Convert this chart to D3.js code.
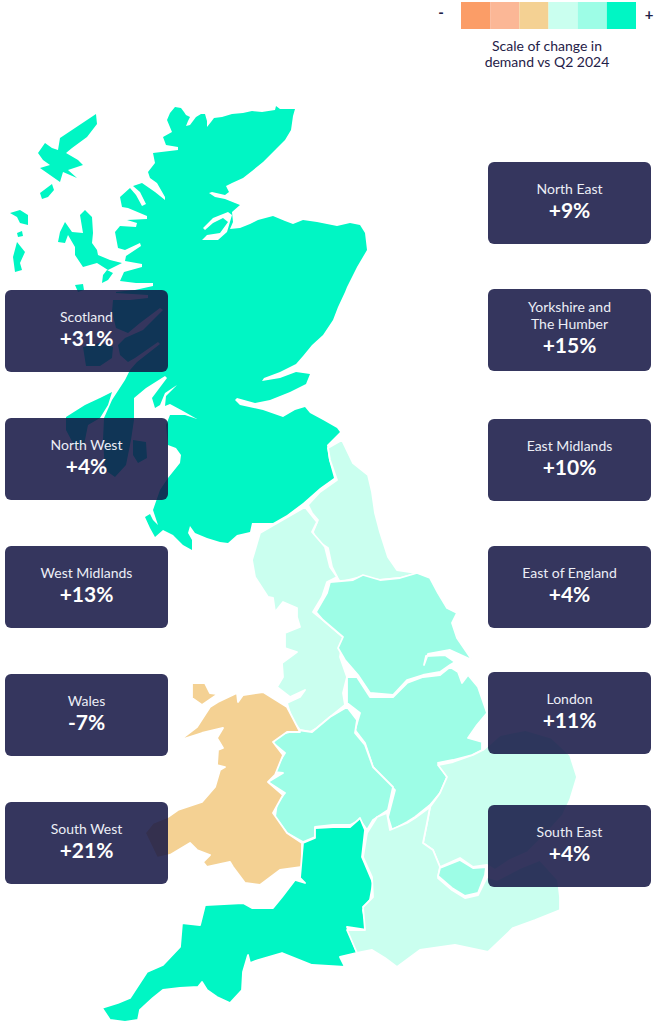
<!DOCTYPE html>
<html>
<head>
<meta charset="utf-8">
<style>
body{margin:0;background:#fff;}
svg{display:block;}
text{font-family:Lato,"Open Sans",sans-serif;text-anchor:middle;}
.region{stroke:#fff;stroke-width:1.8px;stroke-linejoin:round;fill-rule:evenodd;}
.nostroke{stroke:none;}
.lab{font-size:14px;fill:#eceef6;}
.val{font-size:21px;font-weight:700;fill:#fff;}
.leg{font-size:14px;fill:#1f2148;}
.sign{font-size:15px;font-weight:700;fill:#1f2148;}
</style>
</head>
<body>
<script src="https://cdnjs.cloudflare.com/ajax/libs/d3/7.8.5/d3.min.js"></script>
<script>
// values
var regions=["Scotland","North West","West Midlands","Wales","South West","North East","Yorkshire and\nThe Humber","East Midlands","East of England","London","South East"];
var changes=[31,4,13,-7,21,9,15,10,4,11,4];
var legendColors=["#fb9d67","#fbb796","#f4d193","#caffef","#9dfde6","#00f6c4"];
var legendBreaks=[-20,-10,0,10,20];
var legendLines=["Scale of change in","demand vs Q2 2024"];

// which tint each map shape is filled with (the map's change, by area)
var shapeChange={scotland:31,southWest:21,wales:-7,northEast:9,northWest:4,eastEngland:4,southEast:4,yorkshire:15,eastMidlands:10,westMidlands:13,london:11};

// outlines, in map units
var scotland=[
 [[175,107],[181,108],[184,112],[186,115],[190,117],[188,121],[186,126],[190,125],[196,117],[201,114],[205,114],[207,121],[207,127],[211,122],[214,118],[222,117],[232,114],[243,113],[252,111],[262,112],[275,110],[276,106],[280,109],[295,109],[293,116],[291,130],[285,140],[277,148],[263,162],[252,171],[243,178],[232,183],[226,186],[229,192],[225,195],[212,192],[209,193],[215,197],[225,199],[240,205],[232,212],[233,222],[230,229],[240,228],[250,224],[258,220],[273,216],[285,221],[293,224],[303,220],[317,222],[337,226],[350,223],[360,225],[365,233],[367,250],[357,267],[347,287],[345,292],[338,307],[333,320],[323,335],[312,345],[303,356],[296,364],[280,372],[264,378],[262,381],[280,378],[296,372],[310,374],[306,384],[290,392],[270,400],[255,403],[237,398],[235,400],[240,405],[263,410],[283,417],[295,410],[305,407],[310,413],[323,420],[337,428],[340,432],[327,445],[329,460],[334,478],[320,488],[303,503],[287,515],[273,523],[252,523],[250,532],[237,535],[228,543],[220,542],[207,538],[195,533],[190,526],[188,533],[192,540],[192,550],[183,545],[173,535],[163,530],[155,537],[150,528],[145,517],[150,514],[153,520],[158,525],[153,510],[160,490],[168,478],[180,463],[181,455],[176,448],[168,445],[166,425],[170,415],[185,415],[197,419],[183,411],[170,404],[165,406],[166,396],[177,385],[165,393],[160,405],[155,408],[152,398],[167,378],[165,376],[146,388],[140,393],[134,398],[134,420],[131,440],[126,465],[115,477],[105,470],[103,440],[104,418],[112,400],[125,380],[130,370],[137,362],[160,344],[158,342],[135,358],[128,362],[120,355],[118,345],[125,338],[143,330],[163,310],[160,308],[140,323],[128,333],[116,328],[112,312],[113,300],[130,300],[148,298],[148,295],[116,293],[116,292],[135,290],[153,286],[153,283],[136,283],[120,281],[124,272],[142,267],[142,264],[125,261],[126,256],[141,246],[140,243],[125,250],[118,248],[115,232],[120,226],[136,227],[137,223],[127,220],[147,219],[147,216],[128,208],[122,207],[120,197],[130,188],[136,195],[142,206],[146,204],[140,192],[133,186],[142,183],[155,192],[165,200],[165,197],[157,183],[150,178],[148,172],[155,163],[153,153],[178,150],[178,147],[166,145],[163,137],[172,132],[167,120],[170,113]],
 [[203,228],[213,218],[228,212],[232,215],[227,232],[218,240],[202,240],[207,235],[220,233],[228,222],[223,218],[213,223],[205,230]]
];
var scotlandIslands=[
 [[96,114],[97,124],[87,137],[72,148],[66,153],[78,160],[83,165],[68,170],[77,178],[63,172],[60,182],[50,175],[40,168],[50,165],[43,160],[38,153],[45,143],[52,148],[58,150],[60,138]],
 [[40,193],[52,184],[54,190],[48,197],[42,199]],
 [[10,213],[20,210],[28,215],[28,225],[20,223],[17,217]],
 [[17,233],[22,231],[23,236],[18,237]],
 [[17,242],[25,252],[20,263],[22,270],[15,272],[13,257]],
 [[85,210],[92,217],[93,233],[92,243],[97,250],[98,255],[110,260],[122,263],[108,270],[97,263],[83,267],[75,255],[75,247],[68,235],[65,243],[58,242],[60,232],[65,222],[72,232],[83,233],[80,215]],
 [[107,270],[113,273],[108,280],[102,283],[103,275]],
 [[75,285],[83,284],[84,290],[78,292]],
 [[83,347],[100,343],[113,347],[112,358],[100,366],[86,366]],
 [[112,392],[100,398],[85,405],[66,417],[66,430],[75,447],[84,445],[88,425],[100,418],[108,405]],
 [[133,440],[146,442],[147,458],[138,463],[133,455]]
];
var northEast=[[342,440],[353,463],[368,475],[372,492],[375,513],[380,532],[388,557],[397,570],[417,573],[400,578],[380,580],[360,577],[340,582],[337,577],[332,567],[328,548],[316,540],[313,532],[318,520],[312,513],[308,505],[320,492],[337,480],[330,460],[328,448]];
var northWest=[[305,507],[260,533],[252,560],[255,577],[268,597],[273,598],[275,612],[283,602],[297,608],[297,617],[300,627],[285,633],[285,648],[297,652],[282,663],[283,677],[277,687],[290,697],[305,690],[300,697],[287,703],[292,720],[300,730],[310,732],[317,728],[330,717],[345,705],[343,693],[347,677],[340,657],[343,637],[323,620],[313,612],[322,597],[327,582],[337,577],[330,567],[325,547],[312,532],[317,522]];
var yorkshire=[[316,612],[327,593],[330,582],[353,580],[363,575],[380,580],[400,578],[417,573],[430,578],[438,593],[447,608],[457,613],[452,623],[457,638],[472,660],[450,650],[428,654],[424,665],[426,656],[445,655],[455,662],[450,665],[440,672],[423,675],[407,680],[393,695],[370,693],[358,675],[345,660],[338,648],[343,637],[323,620]];
var eastMidlands=[[347,677],[357,677],[370,697],[393,697],[407,683],[423,677],[440,675],[450,667],[458,672],[462,683],[468,675],[478,687],[487,713],[477,725],[468,738],[482,742],[482,750],[472,755],[453,760],[438,763],[447,777],[440,793],[430,805],[415,817],[407,822],[392,830],[388,817],[395,790],[373,767],[365,743],[355,730],[360,713],[347,703]];
var westMidlands=[[277,737],[285,733],[298,730],[312,732],[330,717],[347,707],[357,720],[355,733],[365,745],[373,767],[393,787],[388,810],[373,820],[367,830],[360,820],[350,825],[333,825],[315,827],[315,837],[303,842],[287,833],[275,817],[277,803],[285,793],[268,782],[283,773],[273,772],[285,753],[273,743]];
var wales=[[263,692],[287,707],[300,732],[287,732],[273,742],[283,755],[275,775],[268,782],[283,795],[273,813],[287,833],[302,843],[302,867],[280,870],[260,885],[245,883],[233,867],[230,862],[207,867],[203,862],[210,855],[197,850],[190,843],[170,855],[157,858],[145,833],[153,823],[168,817],[178,810],[202,802],[215,787],[220,770],[225,767],[217,765],[218,750],[223,748],[217,738],[223,728],[202,733],[180,740],[197,727],[210,707],[218,702],[237,693],[238,702],[243,695]];
var anglesey=[[192,683],[205,683],[210,693],[218,694],[202,705],[192,698]];
var southWest=[[360,818],[365,830],[362,857],[373,883],[370,900],[363,910],[367,930],[347,927],[357,953],[340,957],[345,967],[312,965],[282,953],[258,960],[250,963],[248,955],[243,972],[242,990],[230,1003],[217,997],[207,990],[202,982],[198,987],[180,988],[163,990],[153,998],[140,1010],[138,1020],[125,1022],[110,1020],[102,1008],[118,1003],[130,998],[147,972],[163,965],[180,947],[182,923],[200,925],[205,905],[243,903],[252,908],[273,908],[282,897],[295,880],[305,883],[300,878],[303,843],[315,838],[315,828],[333,827],[350,827],[358,820]];
var eastEngland=[[438,765],[453,762],[473,755],[483,750],[500,735],[525,730],[552,738],[570,755],[577,777],[570,800],[563,815],[545,835],[528,852],[510,860],[495,870],[487,865],[473,867],[460,858],[440,867],[433,850],[423,843],[427,823],[430,807],[440,793],[447,777]];
var southEast=[[390,830],[407,823],[415,818],[430,807],[427,823],[423,843],[433,850],[440,867],[438,878],[452,890],[465,898],[478,895],[487,877],[497,880],[520,868],[540,860],[558,880],[560,897],[560,910],[535,920],[513,928],[488,952],[455,945],[420,950],[397,967],[385,958],[372,950],[357,953],[347,930],[365,930],[363,907],[373,897],[372,877],[363,857],[367,833],[377,817],[387,813]];
var london=[[440,868],[460,860],[473,868],[486,867],[485,875],[478,893],[465,896],[452,888],[438,876]];

var mapShapes=[
 {key:"scotland",polys:[scotland].concat(scotlandIslands.map(function(r){return [r];}))},
 {key:"northEast",polys:[[northEast]]},
 {key:"northWest",polys:[[northWest]]},
 {key:"yorkshire",polys:[[yorkshire]]},
 {key:"eastMidlands",polys:[[eastMidlands]]},
 {key:"westMidlands",polys:[[westMidlands]]},
 {key:"wales",polys:[[wales],[anglesey]]},
 {key:"southWest",polys:[[southWest]]},
 {key:"eastEngland",polys:[[eastEngland]]},
 {key:"southEast",polys:[[southEast]]},
 {key:"london",polys:[[london]]}
];

var width=662,height=1024;
var svg=d3.select("body").append("svg").attr("width",width).attr("height",height);

var color=d3.scaleThreshold().domain(legendBreaks).range(legendColors);
var path=d3.geoPath(d3.geoIdentity());

svg.append("g").selectAll("path")
	.data(mapShapes)
	.join("path")
	.attr("class",function(d){return d.key=="scotland"?"region nostroke":"region";})
	.attr("d",function(d){
		return path({type:"MultiPolygon",coordinates:d.polys.map(function(p){
			return p.map(function(r){return r.concat([r[0]]);});
		})});
	})
	.attr("fill",function(d){return color(shapeChange[d.key]);});

// legend
var legX=d3.scaleBand().domain(d3.range(legendColors.length)).range([461,636]);
svg.append("g").selectAll("rect")
	.data(legendColors)
	.join("rect")
	.attr("x",function(d,i){return legX(i);})
	.attr("y",2)
	.attr("width",legX.bandwidth())
	.attr("height",27)
	.attr("fill",function(d){return d;});
svg.append("text").attr("class","sign").attr("x",441).attr("y",18).text("-");
svg.append("text").attr("class","sign").attr("x",649).attr("y",20).text("+");
svg.selectAll(".legline")
	.data(legendLines)
	.join("text")
	.attr("class","leg legline")
	.attr("x",547)
	.attr("y",function(d,i){return 51+i*16;})
	.text(function(d){return d;});

// label boxes
var boxW=163,boxH=82;
var boxX=[5,5,5,5,5,488,488,488,488,488,488];
var boxY=[290,418,546,674,802,162,289,419,546,672,805];

var box=svg.append("g").selectAll("g")
	.data(regions)
	.join("g")
	.attr("transform",function(d,i){return "translate("+boxX[i]+","+boxY[i]+")";});
box.append("rect")
	.attr("width",boxW)
	.attr("height",boxH)
	.attr("rx",6)
	.attr("fill","#131443")
	.attr("fill-opacity",0.855);
box.each(function(d,i){
	var g=d3.select(this),lines=d.split("\n");
	lines.forEach(function(l,j){
		g.append("text").attr("class","lab").attr("x",boxW/2)
			.attr("y",(lines.length>1?23:32)+j*17).text(l);
	});
	g.append("text").attr("class","val").attr("x",boxW/2)
		.attr("y",lines.length>1?64:56)
		.text(d3.format("+d")(changes[i]).replace("\u2212","-")+"%");
});
</script>
</body>
</html>
